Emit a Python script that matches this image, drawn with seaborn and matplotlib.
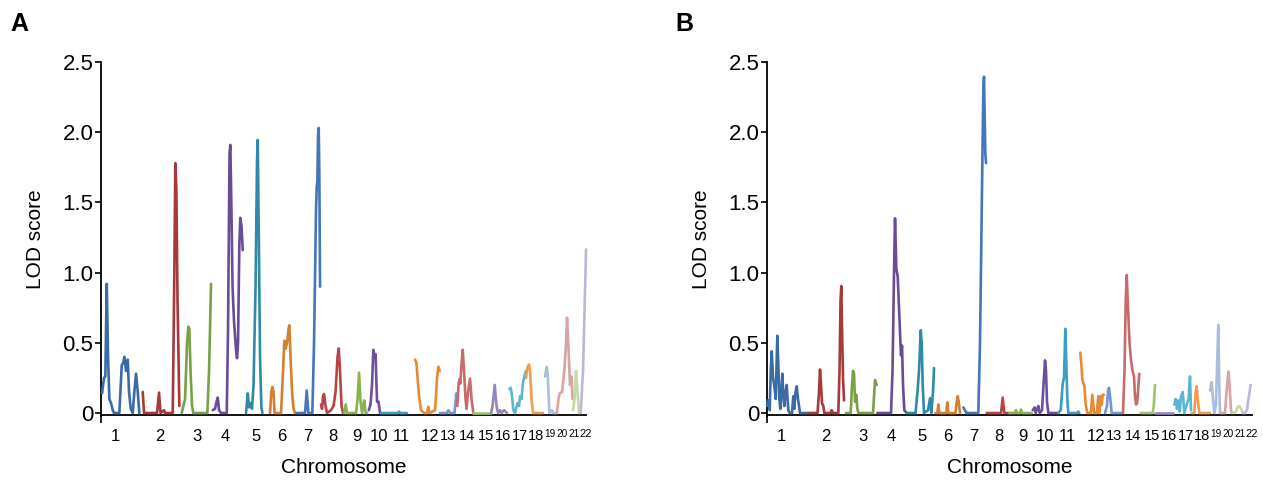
import matplotlib
matplotlib.use('Agg')
import matplotlib.pyplot as plt
import pandas as pd
import seaborn as sns

# genome position (arbitrary units along the x-axis) and LOD score, per chromosome
a_chr1 = [(1, 0.14), (3, 0.25), (4.3, 0.26), (5.7, 0.92), (7, 0.4), (8.3, 0.1), (10, 0.07), (11.7, 0.02),
          (13, 0), (18.3, 0), (20.7, 0.34), (22.3, 0.36), (23.3, 0.40), (25, 0.30), (26.7, 0.38),
          (28, 0.15), (29.7, 0.03), (31.7, 0), (33.3, 0.15), (35, 0.28), (36.7, 0.15), (38.3, 0)]
a_chr2 = [(41.7, 0.15), (43, 0), (56, 0), (58, 0.145), (59.5, 0), (63, 0.02), (64, 0), (71.7, 0),
          (73, 0.8), (74.3, 1.78), (75.3, 1.6), (76.5, 0.8), (78.3, 0.05)]
a_chr3 = [(80.7, 0), (84, 0.1), (86, 0.5), (87.3, 0.615), (88.3, 0.6), (89.5, 0.3), (91, 0.05),
          (92.3, 0), (106.3, 0), (108, 0.3), (110, 0.92)]
a_chr4 = [(111.7, 0.02), (114, 0.03), (115.5, 0.08), (116.7, 0.11), (118, 0.02), (120, 0), (125.7, 0),
          (127, 0.6), (128.5, 1.85), (129.3, 1.91), (130.3, 1.5), (131.5, 0.9), (133, 0.65), (135, 0.45),
          (136, 0.39), (137, 0.5), (138.3, 1.2), (139.3, 1.39), (140.5, 1.33), (141.7, 1.16)]
a_chr5 = [(145, 0), (146.7, 0.14), (148, 0.04), (149.5, 0.07), (151, 0.03), (152.5, 0.2), (154.5, 0.9),
          (156, 1.8), (156.7, 1.945), (157.7, 1.3), (159, 0.4), (160.3, 0.05), (161.3, 0)]
a_chr6 = [(169, 0), (170.3, 0.15), (171.3, 0.185), (172.5, 0.15), (173.5, 0), (180, 0), (182, 0.3),
          (183.3, 0.515), (184.7, 0.46), (186, 0.5), (187.5, 0.6), (188.3, 0.625), (189.5, 0.4),
          (191, 0.15), (192.5, 0.03), (194, 0)]
a_chr7 = [(195.7, 0), (204, 0), (205.7, 0.16), (207.3, 0), (211.3, 0), (213, 0.5), (215, 1.45),
          (215.7, 1.61), (216.3, 1.65), (217, 1.98), (217.7, 2.03), (218.3, 1.7), (219, 0.9)]
a_chr8 = [(220, 0.06), (221, 0.03), (222, 0.12), (223, 0.135), (224.5, 0.05), (226, 0), (230, 0.02),
          (232.5, 0.05), (234.5, 0.15), (236.5, 0.4), (237.7, 0.46), (239, 0.3), (240.5, 0.05), (242, 0)]
a_chr9 = [(243, 0), (244.7, 0.06), (246, 0), (255, 0), (256.5, 0.1), (258, 0.287), (259.5, 0.08),
          (261, 0), (262.5, 0.07), (263.3, 0.09), (264.5, 0), (266, 0)]
a_chr10 = [(267.7, 0.02), (269.5, 0.06), (271, 0.2), (272.3, 0.45), (273.3, 0.4), (274.5, 0.42),
           (276, 0.08), (277.5, 0.08), (279, 0), (280, 0)]
a_chr11 = [(280, 0), (297, 0), (298, 0.01), (299, 0), (306, 0)]
a_chr12 = [(314, 0.38), (315.3, 0.36), (316, 0.3), (316.7, 0.235), (318, 0.12), (320, 0.02), (323, 0),
           (326, 0), (327.3, 0.045), (328.5, 0), (334, 0.02), (336, 0.25), (337.3, 0.33), (338.7, 0.3)]
a_chr13 = [(339, 0), (346, 0), (347.3, 0.02), (349, 0), (353.5, 0), (355.3, 0.14)]
a_chr14 = [(356.3, 0.05), (357.5, 0.2), (358.3, 0.24), (359.3, 0.21), (360.5, 0.35), (361.7, 0.45),
           (363, 0.3), (364.5, 0.1), (365.5, 0.03), (367, 0.15), (369, 0.245), (370.5, 0.1), (372.3, 0)]
a_chr15 = [(372.3, 0), (390, 0)]
a_chr16 = [(390, 0), (391.5, 0.05), (393.7, 0.2), (395.5, 0.05), (397, 0), (399, 0.02), (400.5, 0),
           (403, 0.02), (406, 0)]
a_chr17 = [(408.3, 0.17), (409.7, 0.18), (411, 0.12), (412.3, 0.02), (414, 0), (416.5, 0.07),
           (418, 0.05), (419, 0.12), (420.5, 0.1), (422, 0.22), (424, 0.28), (425, 0.3)]
a_chr18 = [(425, 0.25), (426.5, 0.33), (428, 0.345), (429, 0.3), (430.5, 0.1), (432, 0), (442, 0)]
a_chr19 = [(444, 0.26), (445.7, 0.33), (446.7, 0.28), (448.3, 0), (451, 0.02), (452, 0), (455, 0)]
a_chr20 = [(455.7, 0), (457.5, 0.1), (458.7, 0.14), (461, 0.15), (463.3, 0.3), (465, 0.5), (466, 0.68),
           (467.5, 0.45), (469, 0.2), (470.3, 0.26), (471.5, 0.1)]
a_chr21 = [(472, 0.02), (473.5, 0.1), (475, 0.3), (476.5, 0.15), (478, 0)]
a_chr22 = [(479.7, 0), (482, 0.3), (485, 1.165)]

b_chr1 = [(0, 0.05), (1, 0.09), (2, 0.08), (2.7, 0.02), (3.7, 0.3), (4.7, 0.44), (6, 0.25), (7.5, 0.18),
          (8.7, 0.1), (10.3, 0.55), (11.5, 0.3), (12.3, 0.1), (13.3, 0.03), (15.3, 0.28), (16.3, 0.12),
          (17.3, 0.05), (18.5, 0.15), (19.7, 0.2), (20.5, 0.1), (21.3, 0.02), (22.7, 0), (25, 0),
          (26.3, 0.12), (27.3, 0.03), (28.5, 0.15), (29.7, 0.19), (31, 0.1), (33, 0), (41, 0)]
b_chr2 = [(41.3, 0), (50.5, 0), (52, 0.15), (53, 0.31), (54, 0.2), (55, 0.07), (56.3, 0.05), (57.3, 0),
          (63.5, 0), (64.7, 0.02), (65.7, 0), (71.3, 0), (72.5, 0.3), (73.5, 0.8), (74.3, 0.905),
          (75, 0.6), (76, 0.25), (77, 0.09)]
b_chr3 = [(79, 0), (83.7, 0), (85, 0.2), (86, 0.3), (87, 0.28), (88, 0.08), (89.3, 0.13), (90.3, 0.03),
          (91.3, 0), (106, 0), (107.3, 0.15), (108, 0.235), (109.7, 0.2)]
b_chr4 = [(110.3, 0), (124, 0), (125.5, 0.3), (127, 1.0), (128, 1.387), (128.7, 1.2), (129.3, 1.03),
          (130.7, 0.97), (132, 0.75), (133.3, 0.52), (134, 0.41), (135, 0.48), (136, 0.2), (137.3, 0.02),
          (139.7, 0)]
b_chr5 = [(139.7, 0), (148.5, 0), (150.7, 0.17), (152, 0.3), (153.7, 0.59), (154.7, 0.5), (155.7, 0.2),
          (157, 0), (161, 0.02), (163, 0.105), (164.3, 0), (166, 0.15), (167, 0.32)]
b_chr6 = [(168.3, 0), (170.3, 0), (171.3, 0.06), (172.3, 0), (179.3, 0), (180.3, 0.075), (181.3, 0),
          (188.5, 0), (189.7, 0.08), (190.7, 0.12), (191.7, 0.08), (193, 0)]
b_chr7 = [(196.3, 0.04), (198.7, 0.01), (199.3, 0), (211.3, 0), (213, 0.5), (215, 1.6), (216.3, 2.3),
          (217, 2.395), (217.7, 2.1), (218.3, 1.85), (219, 1.78)]
b_chr8 = [(219.7, 0), (234, 0), (235.7, 0.11), (237.3, 0), (242.3, 0)]
b_chr9 = [(242.3, 0), (248, 0), (249, 0.02), (250, 0), (253, 0), (254, 0.025), (255, 0), (264.7, 0)]
b_chr10 = [(265.7, 0.02), (267.7, 0.04), (268.7, 0), (270.3, 0.03), (271.3, 0.05), (272.7, 0), (275, 0.02),
           (276.5, 0.2), (278, 0.375), (279, 0.3), (280, 0.08), (281.3, 0), (291.3, 0)]
b_chr11 = [(291.3, 0), (293.7, 0.02), (295.7, 0.21), (297, 0.25), (298.3, 0.6), (299.3, 0.35),
           (300.3, 0.1), (301.3, 0), (310, 0), (311.3, 0.01), (312.3, 0)]
b_chr12 = [(313.3, 0.43), (314.3, 0.35), (315.3, 0.24), (316.3, 0.21), (317.3, 0.2), (318.7, 0.06),
           (320.3, 0), (323.7, 0), (325.3, 0.13), (327, 0), (329.7, 0), (331.3, 0.12), (332.3, 0),
           (333.7, 0.12), (334.7, 0.06), (335.7, 0.13), (337, 0.13)]
b_chr13 = [(338, 0), (340, 0.05), (341, 0.16), (342, 0.18), (343.3, 0.1), (344.7, 0), (354.7, 0)]
b_chr14 = [(356, 0), (357.5, 0.3), (358.7, 0.8), (359.7, 0.983), (361, 0.75), (362.5, 0.5), (364, 0.38),
           (365.5, 0.3), (367, 0.26), (368, 0.12), (369, 0.06), (370, 0.07), (371, 0.15), (372.3, 0.28)]
b_chr15 = [(373.7, 0), (385.7, 0), (386.7, 0.05), (388, 0.2)]
b_chr16 = [(388, 0), (406, 0)]
b_chr17 = [(407.3, 0.06), (408.7, 0.1), (410, 0.03), (411.3, 0.09), (412.7, 0.01), (414, 0.12),
           (415.7, 0.15), (417.3, 0), (419.7, 0.06), (421.5, 0.1), (423, 0.26), (424, 0.02)]
b_chr18 = [(424.7, 0), (427.3, 0), (428.7, 0.15), (429.7, 0.19), (430.7, 0.1), (432.3, 0), (443, 0)]
b_chr19 = [(443, 0.16), (444, 0.2), (444.7, 0.22), (446, 0.1), (447.3, 0), (449, 0.06), (450.3, 0.4),
           (451.3, 0.627), (452.3, 0.2), (453, 0), (454.7, 0)]
b_chr20 = [(455, 0), (458, 0), (459.5, 0.15), (461.3, 0.295), (462.5, 0.2), (464, 0.02), (465, 0)]
b_chr21 = [(466, 0), (469, 0.01), (470.3, 0.04), (472.3, 0.05), (474, 0.03), (476, 0)]
b_chr22 = [(476, 0), (478, 0), (480, 0.02), (481, 0.08), (483.7, 0.2)]

panel_a = [a_chr1, a_chr2, a_chr3, a_chr4, a_chr5, a_chr6, a_chr7, a_chr8, a_chr9, a_chr10, a_chr11,
           a_chr12, a_chr13, a_chr14, a_chr15, a_chr16, a_chr17, a_chr18, a_chr19, a_chr20, a_chr21, a_chr22]
panel_b = [b_chr1, b_chr2, b_chr3, b_chr4, b_chr5, b_chr6, b_chr7, b_chr8, b_chr9, b_chr10, b_chr11,
           b_chr12, b_chr13, b_chr14, b_chr15, b_chr16, b_chr17, b_chr18, b_chr19, b_chr20, b_chr21, b_chr22]

chrom_labels = [str(i) for i in range(1, 23)]
chrom_label_pos = [14.5, 59, 95.5, 124, 155, 181, 207, 231.5, 255.5, 278, 300.5, 329, 346.5, 365.5,
                   384.5, 401.5, 418.5, 435, 449, 461.5, 473, 485]
genome_end = 485

chrom_colors = ['#3b6ba5', '#a63a3a', '#79a044', '#6a4b96', '#2e8aa6', '#d57f30',
                '#4476b9', '#b64646', '#8ab34d', '#6e4f9f', '#3a9fc0', '#e78a31',
                '#7196d2', '#c66a6a', '#a0c46c', '#9684bc', '#5ab6d2', '#f29c4e',
                '#a9bddc', '#d8a3a3', '#c3d9a4', '#bdb6d8']
# the crowded labels at the right end are printed smaller
label_sizes = [12] * 12 + [10.5] * 6 + [7.2] * 3 + [8]


def to_frame(panel):
    rows = []
    for i, pts in enumerate(panel):
        for pos, lod in pts:
            rows.append({'chrom': chrom_labels[i], 'pos': pos, 'lod': lod})
    return pd.DataFrame(rows)


sns.set_style('white')
plt.rcParams['font.family'] = ['Liberation Sans', 'DejaVu Sans']
plt.rcParams.update({'text.color': 'black', 'axes.labelcolor': 'black',
                     'xtick.color': 'black', 'ytick.color': 'black'})

fig = plt.figure(figsize=(12.63, 4.83), dpi=100)
axes = [fig.add_axes([0.0800, 0.1391, 0.3840, 0.7325]),
        fig.add_axes([0.6073, 0.1391, 0.3840, 0.7325])]

for ax, panel in zip(axes, [panel_a, panel_b]):
    df = to_frame(panel)
    sns.lineplot(data=df, x='pos', y='lod', hue='chrom', hue_order=chrom_labels,
                 palette=chrom_colors, estimator=None, sort=False, legend=False,
                 linewidth=1.9, ax=ax, zorder=3, clip_on=False)
    ax.set_xlim(0, genome_end)
    ax.set_ylim(-0.02, 2.5)
    for s in ['top', 'right']:
        ax.spines[s].set_visible(False)
    ax.spines['bottom'].set_position(('data', -0.012))
    for s in ['left', 'bottom']:
        ax.spines[s].set_color('black')
        ax.spines[s].set_linewidth(1.3)

    ax.set_yticks([0, 0.5, 1.0, 1.5, 2.0, 2.5])
    ax.set_yticklabels(['0', '0.5', '1.0', '1.5', '2.0', '2.5'], fontsize=16)
    ax.tick_params(axis='y', direction='out', length=4.5, width=1.2, pad=1, left=True)

    ax.set_xticks(chrom_label_pos)
    ax.set_xticklabels(chrom_labels)
    for t, fs in zip(ax.get_xticklabels(), label_sizes):
        t.set_fontsize(fs)
    ax.tick_params(axis='x', length=0, pad=10)
    ax.set_xticks([0, genome_end], minor=True)
    ax.tick_params(axis='x', which='minor', direction='out', length=6, width=1.2, bottom=True)

    ax.set_xlabel('Chromosome', fontsize=15)
    ax.set_ylabel('LOD score', fontsize=15)
    ax.xaxis.set_label_coords(0.5, -0.12)
    ax.yaxis.set_label_coords(-0.115, 0.5)
    ax.grid(False)

fig.text(0.008, 0.975, 'A', fontsize=18, fontweight='bold', va='top', ha='left')
fig.text(0.535, 0.975, 'B', fontsize=18, fontweight='bold', va='top', ha='left')

fig.savefig('out.png', dpi=100)
